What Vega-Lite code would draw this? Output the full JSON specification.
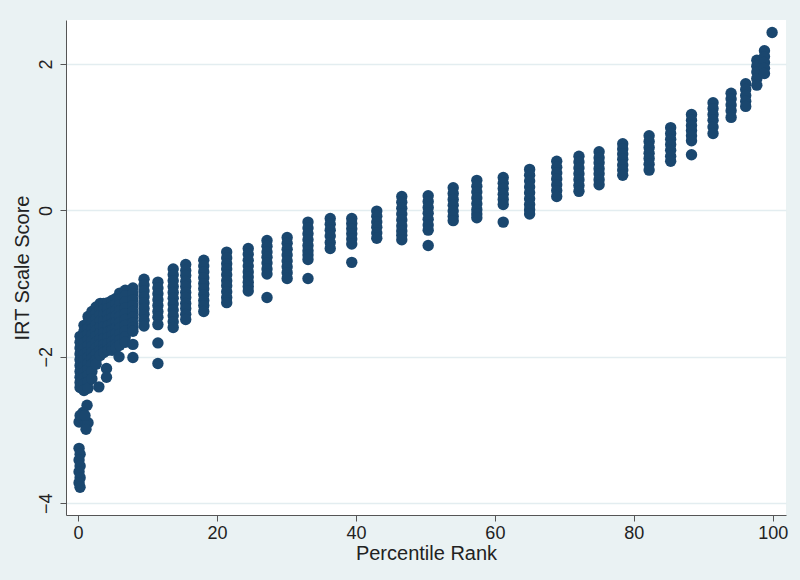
{
"$schema":"https://vega.github.io/schema/vega-lite/v6.json",
"autosize":{"type":"none"},
"width":720,"height":495,
"padding":{"left":66,"top":20,"right":14,"bottom":65},
"background":"#eaf2f3",
"view":{"fill":"white","stroke":null},
"config":{"font":"Liberation Sans"},
"data":{"values":[
{"x":0.15,"y":-3.25},{"x":0.3,"y":-3.33},{"x":0.15,"y":-3.41},{"x":0.3,"y":-3.49},{"x":0.15,"y":-3.57},{"x":0.3,"y":-3.65},{"x":0.15,"y":-3.72},{"x":0.29,"y":-3.78},
{"x":1.3,"y":-2.66},{"x":0.72,"y":-2.76},{"x":0.15,"y":-2.89},{"x":0.86,"y":-2.86},{"x":1.44,"y":-2.9},{"x":1.15,"y":-2.99},{"x":0.3,"y":-2.8},{"x":1.0,"y":-2.8},
{"x":0.29,"y":-1.72},{"x":0.29,"y":-1.8},{"x":0.29,"y":-1.88},{"x":0.29,"y":-1.96},{"x":0.29,"y":-2.04},{"x":0.29,"y":-2.12},{"x":0.29,"y":-2.2},{"x":0.29,"y":-2.28},{"x":0.29,"y":-2.35},{"x":0.29,"y":-2.42},
{"x":0.86,"y":-1.57},{"x":0.86,"y":-1.65},{"x":0.86,"y":-1.73},{"x":0.86,"y":-1.81},{"x":0.86,"y":-1.89},{"x":0.86,"y":-1.97},{"x":0.86,"y":-2.05},{"x":0.86,"y":-2.13},{"x":0.86,"y":-2.21},{"x":0.86,"y":-2.29},{"x":0.86,"y":-2.37},{"x":0.86,"y":-2.46},
{"x":1.44,"y":-1.45},{"x":1.44,"y":-1.53},{"x":1.44,"y":-1.61},{"x":1.44,"y":-1.69},{"x":1.44,"y":-1.77},{"x":1.44,"y":-1.85},{"x":1.44,"y":-1.93},{"x":1.44,"y":-2.01},{"x":1.44,"y":-2.09},{"x":1.44,"y":-2.17},{"x":1.44,"y":-2.25},{"x":1.44,"y":-2.34},{"x":1.44,"y":-2.43},
{"x":2.0,"y":-1.38},{"x":2.0,"y":-1.46},{"x":2.0,"y":-1.54},{"x":2.0,"y":-1.62},{"x":2.0,"y":-1.7},{"x":2.0,"y":-1.78},{"x":2.0,"y":-1.86},{"x":2.0,"y":-1.94},{"x":2.0,"y":-2.02},{"x":2.0,"y":-2.1},{"x":2.0,"y":-2.2},{"x":2.0,"y":-2.3},
{"x":2.6,"y":-1.32},{"x":2.6,"y":-1.4},{"x":2.6,"y":-1.48},{"x":2.6,"y":-1.56},{"x":2.6,"y":-1.64},{"x":2.6,"y":-1.72},{"x":2.6,"y":-1.8},{"x":2.6,"y":-1.88},{"x":2.6,"y":-1.96},{"x":2.6,"y":-2.04},{"x":2.6,"y":-2.1},
{"x":3.2,"y":-1.27},{"x":3.2,"y":-1.35},{"x":3.2,"y":-1.43},{"x":3.2,"y":-1.51},{"x":3.2,"y":-1.59},{"x":3.2,"y":-1.67},{"x":3.2,"y":-1.75},{"x":3.2,"y":-1.83},{"x":3.2,"y":-1.91},{"x":3.2,"y":-1.98},{"x":3.0,"y":-2.41},
{"x":3.7,"y":-1.27},{"x":3.7,"y":-1.35},{"x":3.7,"y":-1.43},{"x":3.7,"y":-1.51},{"x":3.7,"y":-1.59},{"x":3.7,"y":-1.67},{"x":3.7,"y":-1.75},{"x":3.7,"y":-1.83},{"x":3.7,"y":-1.9},{"x":3.7,"y":-1.94},
{"x":4.3,"y":-1.26},{"x":4.3,"y":-1.34},{"x":4.3,"y":-1.42},{"x":4.3,"y":-1.5},{"x":4.3,"y":-1.58},{"x":4.3,"y":-1.66},{"x":4.3,"y":-1.74},{"x":4.3,"y":-1.82},{"x":4.3,"y":-1.91},{"x":4.1,"y":-2.16},{"x":4.1,"y":-2.28},
{"x":4.9,"y":-1.23},{"x":4.9,"y":-1.31},{"x":4.9,"y":-1.39},{"x":4.9,"y":-1.47},{"x":4.9,"y":-1.55},{"x":4.9,"y":-1.63},{"x":4.9,"y":-1.71},{"x":4.9,"y":-1.79},{"x":4.9,"y":-1.86},{"x":4.9,"y":-1.91},
{"x":5.5,"y":-1.2},{"x":5.5,"y":-1.28},{"x":5.5,"y":-1.36},{"x":5.5,"y":-1.44},{"x":5.5,"y":-1.52},{"x":5.5,"y":-1.6},{"x":5.5,"y":-1.68},{"x":5.5,"y":-1.76},{"x":5.5,"y":-1.83},{"x":5.5,"y":-1.88},
{"x":6.0,"y":-1.13},{"x":6.0,"y":-1.21},{"x":6.0,"y":-1.29},{"x":6.0,"y":-1.37},{"x":6.0,"y":-1.45},{"x":6.0,"y":-1.53},{"x":6.0,"y":-1.61},{"x":6.0,"y":-1.69},{"x":6.0,"y":-1.77},{"x":6.0,"y":-1.84},{"x":5.9,"y":-2.0},
{"x":6.8,"y":-1.09},{"x":6.8,"y":-1.17},{"x":6.8,"y":-1.25},{"x":6.8,"y":-1.33},{"x":6.8,"y":-1.41},{"x":6.8,"y":-1.49},{"x":6.8,"y":-1.57},{"x":6.8,"y":-1.65},{"x":6.8,"y":-1.73},{"x":6.8,"y":-1.8},
{"x":7.9,"y":-1.06},{"x":7.9,"y":-1.14},{"x":7.9,"y":-1.22},{"x":7.9,"y":-1.3},{"x":7.9,"y":-1.38},{"x":7.9,"y":-1.46},{"x":7.9,"y":-1.54},{"x":7.9,"y":-1.6},{"x":7.9,"y":-1.65},{"x":7.9,"y":-1.83},{"x":7.9,"y":-2.01},
{"x":9.5,"y":-0.94},{"x":9.5,"y":-1.02},{"x":9.5,"y":-1.1},{"x":9.5,"y":-1.18},{"x":9.5,"y":-1.26},{"x":9.5,"y":-1.34},{"x":9.5,"y":-1.42},{"x":9.5,"y":-1.5},{"x":9.5,"y":-1.58},
{"x":11.5,"y":-0.98},{"x":11.5,"y":-1.06},{"x":11.5,"y":-1.14},{"x":11.5,"y":-1.22},{"x":11.5,"y":-1.3},{"x":11.5,"y":-1.38},{"x":11.5,"y":-1.46},{"x":11.5,"y":-1.56},{"x":11.5,"y":-1.81},{"x":11.5,"y":-2.09},
{"x":13.7,"y":-0.8},{"x":13.7,"y":-0.88},{"x":13.7,"y":-0.96},{"x":13.7,"y":-1.04},{"x":13.7,"y":-1.12},{"x":13.7,"y":-1.2},{"x":13.7,"y":-1.28},{"x":13.7,"y":-1.36},{"x":13.7,"y":-1.44},{"x":13.7,"y":-1.52},{"x":13.7,"y":-1.6},
{"x":15.5,"y":-0.74},{"x":15.5,"y":-0.82},{"x":15.5,"y":-0.89},{"x":15.5,"y":-0.97},{"x":15.5,"y":-1.04},{"x":15.5,"y":-1.12},{"x":15.5,"y":-1.19},{"x":15.5,"y":-1.27},{"x":15.5,"y":-1.34},{"x":15.5,"y":-1.42},{"x":15.5,"y":-1.49},
{"x":18.1,"y":-0.68},{"x":18.1,"y":-0.76},{"x":18.1,"y":-0.84},{"x":18.1,"y":-0.92},{"x":18.1,"y":-1.0},{"x":18.1,"y":-1.07},{"x":18.1,"y":-1.15},{"x":18.1,"y":-1.23},{"x":18.1,"y":-1.3},{"x":18.1,"y":-1.38},
{"x":21.4,"y":-0.57},{"x":21.4,"y":-0.65},{"x":21.4,"y":-0.73},{"x":21.4,"y":-0.8},{"x":21.4,"y":-0.88},{"x":21.4,"y":-0.96},{"x":21.4,"y":-1.03},{"x":21.4,"y":-1.11},{"x":21.4,"y":-1.19},{"x":21.4,"y":-1.26},
{"x":24.5,"y":-0.52},{"x":24.5,"y":-0.6},{"x":24.5,"y":-0.68},{"x":24.5,"y":-0.76},{"x":24.5,"y":-0.84},{"x":24.5,"y":-0.91},{"x":24.5,"y":-0.98},{"x":24.5,"y":-1.04},{"x":24.5,"y":-1.1},
{"x":27.2,"y":-0.41},{"x":27.2,"y":-0.49},{"x":27.2,"y":-0.57},{"x":27.2,"y":-0.64},{"x":27.2,"y":-0.72},{"x":27.2,"y":-0.8},{"x":27.2,"y":-0.87},{"x":27.2,"y":-1.19},
{"x":30.1,"y":-0.37},{"x":30.1,"y":-0.45},{"x":30.1,"y":-0.53},{"x":30.1,"y":-0.61},{"x":30.1,"y":-0.69},{"x":30.1,"y":-0.77},{"x":30.1,"y":-0.85},{"x":30.1,"y":-0.93},
{"x":33.1,"y":-0.16},{"x":33.1,"y":-0.24},{"x":33.1,"y":-0.32},{"x":33.1,"y":-0.4},{"x":33.1,"y":-0.48},{"x":33.1,"y":-0.55},{"x":33.1,"y":-0.61},{"x":33.1,"y":-0.67},{"x":33.1,"y":-0.93},
{"x":36.3,"y":-0.11},{"x":36.3,"y":-0.19},{"x":36.3,"y":-0.27},{"x":36.3,"y":-0.35},{"x":36.3,"y":-0.44},{"x":36.3,"y":-0.52},
{"x":39.4,"y":-0.11},{"x":39.4,"y":-0.18},{"x":39.4,"y":-0.25},{"x":39.4,"y":-0.32},{"x":39.4,"y":-0.39},{"x":39.4,"y":-0.46},{"x":39.4,"y":-0.71},
{"x":43.0,"y":-0.01},{"x":43.0,"y":-0.08},{"x":43.0,"y":-0.16},{"x":43.0,"y":-0.23},{"x":43.0,"y":-0.31},{"x":43.0,"y":-0.38},
{"x":46.6,"y":0.19},{"x":46.6,"y":0.11},{"x":46.6,"y":0.03},{"x":46.6,"y":-0.05},{"x":46.6,"y":-0.13},{"x":46.6,"y":-0.21},{"x":46.6,"y":-0.28},{"x":46.6,"y":-0.34},{"x":46.6,"y":-0.4},
{"x":50.4,"y":0.2},{"x":50.4,"y":0.12},{"x":50.4,"y":0.04},{"x":50.4,"y":-0.04},{"x":50.4,"y":-0.12},{"x":50.4,"y":-0.2},{"x":50.4,"y":-0.27},{"x":50.4,"y":-0.48},
{"x":54.0,"y":0.31},{"x":54.0,"y":0.23},{"x":54.0,"y":0.15},{"x":54.0,"y":0.07},{"x":54.0,"y":-0.01},{"x":54.0,"y":-0.08},{"x":54.0,"y":-0.14},
{"x":57.4,"y":0.41},{"x":57.4,"y":0.33},{"x":57.4,"y":0.25},{"x":57.4,"y":0.17},{"x":57.4,"y":0.09},{"x":57.4,"y":0.01},{"x":57.4,"y":-0.05},{"x":57.4,"y":-0.1},
{"x":61.2,"y":0.45},{"x":61.2,"y":0.37},{"x":61.2,"y":0.3},{"x":61.2,"y":0.22},{"x":61.2,"y":0.15},{"x":61.2,"y":0.08},{"x":61.2,"y":-0.16},
{"x":65.0,"y":0.56},{"x":65.0,"y":0.48},{"x":65.0,"y":0.4},{"x":65.0,"y":0.32},{"x":65.0,"y":0.24},{"x":65.0,"y":0.16},{"x":65.0,"y":0.08},{"x":65.0,"y":0.01},{"x":65.0,"y":-0.05},
{"x":68.9,"y":0.67},{"x":68.9,"y":0.59},{"x":68.9,"y":0.51},{"x":68.9,"y":0.43},{"x":68.9,"y":0.35},{"x":68.9,"y":0.27},{"x":68.9,"y":0.19},
{"x":72.1,"y":0.74},{"x":72.1,"y":0.66},{"x":72.1,"y":0.58},{"x":72.1,"y":0.5},{"x":72.1,"y":0.42},{"x":72.1,"y":0.34},{"x":72.1,"y":0.26},
{"x":75.0,"y":0.8},{"x":75.0,"y":0.72},{"x":75.0,"y":0.65},{"x":75.0,"y":0.57},{"x":75.0,"y":0.5},{"x":75.0,"y":0.42},{"x":75.0,"y":0.35},
{"x":78.4,"y":0.91},{"x":78.4,"y":0.84},{"x":78.4,"y":0.77},{"x":78.4,"y":0.7},{"x":78.4,"y":0.62},{"x":78.4,"y":0.55},{"x":78.4,"y":0.48},
{"x":82.2,"y":1.02},{"x":82.2,"y":0.94},{"x":82.2,"y":0.86},{"x":82.2,"y":0.78},{"x":82.2,"y":0.71},{"x":82.2,"y":0.63},{"x":82.2,"y":0.55},
{"x":85.3,"y":1.13},{"x":85.3,"y":1.05},{"x":85.3,"y":0.97},{"x":85.3,"y":0.9},{"x":85.3,"y":0.82},{"x":85.3,"y":0.74},{"x":85.3,"y":0.67},
{"x":88.3,"y":1.31},{"x":88.3,"y":1.23},{"x":88.3,"y":1.16},{"x":88.3,"y":1.09},{"x":88.3,"y":1.02},{"x":88.3,"y":0.95},{"x":88.3,"y":0.76},
{"x":91.4,"y":1.47},{"x":91.4,"y":1.39},{"x":91.4,"y":1.31},{"x":91.4,"y":1.23},{"x":91.4,"y":1.14},{"x":91.4,"y":1.05},
{"x":94.0,"y":1.6},{"x":94.0,"y":1.52},{"x":94.0,"y":1.44},{"x":94.0,"y":1.36},{"x":94.0,"y":1.27},
{"x":96.1,"y":1.73},{"x":96.1,"y":1.65},{"x":96.1,"y":1.57},{"x":96.1,"y":1.49},{"x":96.1,"y":1.42},
{"x":97.7,"y":2.05},{"x":97.7,"y":1.97},{"x":97.7,"y":1.89},{"x":97.7,"y":1.8},{"x":97.7,"y":1.71},
{"x":98.8,"y":2.18},{"x":98.8,"y":2.1},{"x":98.8,"y":2.02},{"x":98.8,"y":1.94},{"x":98.8,"y":1.87},
{"x":99.9,"y":2.43}
]},
"mark":{"type":"circle","size":130,"opacity":1,"color":"#1a476f"},
"encoding":{
"x":{"field":"x","type":"quantitative","title":"Percentile Rank",
"scale":{"domain":[-1.73,101.9],"nice":false,"zero":false},
"axis":{"values":[0,20,40,60,80,100],"grid":false,"domainColor":"#555555","tickColor":"#555555","tickSize":6,"labelFontSize":18,"labelColor":"#222222","labelPadding":3,"titleFontSize":20,"titleFontWeight":"normal","titleColor":"#222222","titlePadding":1}},
"y":{"field":"y","type":"quantitative","title":"IRT Scale Score",
"scale":{"domain":[-4.16,2.6],"nice":false,"zero":false},
"axis":{"values":[-4,-2,0,2],"grid":true,"gridColor":"#e3edf0","gridWidth":1.5,"domainColor":"#555555","tickColor":"#555555","tickSize":6,"labelAngle":-90,"labelAlign":"center","labelBaseline":"bottom","labelFontSize":18,"labelColor":"#222222","labelPadding":5,"titleFontSize":20,"titleFontWeight":"normal","titleColor":"#222222","titlePadding":5}}
}
}
